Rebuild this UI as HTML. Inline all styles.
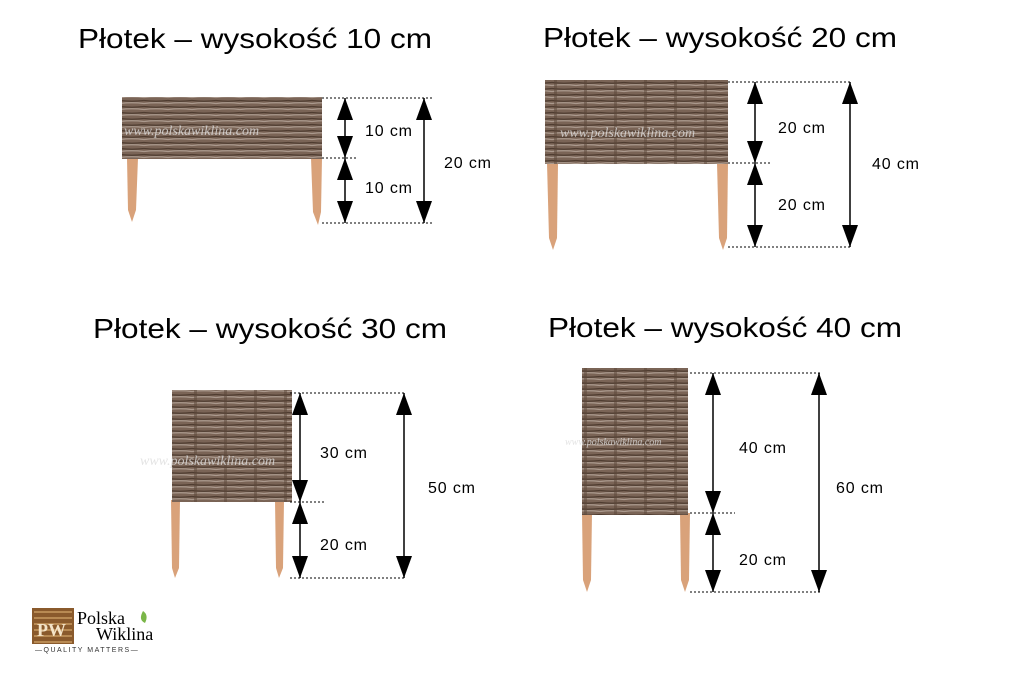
<!DOCTYPE html>
<html><head><meta charset="utf-8"><style>
html,body{margin:0;padding:0;background:#fff;}
svg{display:block;}
text{font-family:"Liberation Sans",sans-serif;fill:#000;}
.t{font-size:28px;}
.l{font-size:16px;}
.d{stroke:#000;stroke-width:1;stroke-dasharray:2,2;}
.a{stroke:#000;stroke-width:1.5;marker-start:url(#ah);marker-end:url(#ah);}
.stk{fill:#d9a27a;}
.wm{font-family:"Liberation Serif",serif;font-style:italic;font-size:14px;fill:#ddd;opacity:.8;}
</style></head><body>
<svg width="1034" height="680" viewBox="0 0 1034 680">
<defs>
<marker id="ah" viewBox="0 0 22 16" refX="22" refY="8" markerWidth="22" markerHeight="16" markerUnits="userSpaceOnUse" orient="auto-start-reverse">
<path d="M0,0 L22,8 L0,16 Z"/>
</marker>
<pattern id="wk" width="24" height="6" patternUnits="userSpaceOnUse">
<rect width="24" height="6" fill="#7a6456"/>
<path d="M0,1.5 Q12,0 24,1.5" stroke="#ab9a8e" stroke-width="1.3" fill="none"/>
<path d="M0,4.5 Q12,6 24,4.5" stroke="#4e3c30" stroke-width="1.2" fill="none"/>
</pattern>
<pattern id="vs" width="30" height="10" patternUnits="userSpaceOnUse">
<rect x="14" y="0" width="3" height="10" fill="#5a4538" opacity=".5"/>
</pattern>
</defs>

<text class="t" x="78" y="48" textLength="354" lengthAdjust="spacingAndGlyphs">Płotek – wysokość 10 cm</text>
<text class="t" x="543" y="47" textLength="354" lengthAdjust="spacingAndGlyphs">Płotek – wysokość 20 cm</text>
<text class="t" x="93" y="338" textLength="354" lengthAdjust="spacingAndGlyphs">Płotek – wysokość 30 cm</text>
<text class="t" x="548" y="337" textLength="354" lengthAdjust="spacingAndGlyphs">Płotek – wysokość 40 cm</text>

<!-- fence 1 -->
<polygon class="stk" points="127,158 138,158 136,210 132,222 128,210"/>
<polygon class="stk" points="311,158 322,158 321,212 318,225 313,212"/>
<rect x="122" y="97" width="200" height="62" fill="url(#wk)"/>
<text class="wm" x="124" y="135">www.polskawiklina.com</text>
<line class="d" x1="322" y1="98" x2="432" y2="98"/>
<line class="d" x1="322" y1="158" x2="358" y2="158"/>
<line class="d" x1="322" y1="223" x2="432" y2="223"/>
<line class="a" x1="345" y1="98" x2="345" y2="158"/>
<line class="a" x1="345" y1="158" x2="345" y2="223"/>
<line class="a" x1="424" y1="98" x2="424" y2="223"/>
<text class="l" x="365" y="136" textLength="47">10 cm</text>
<text class="l" x="365" y="193" textLength="47">10 cm</text>
<text class="l" x="444" y="168" textLength="47">20 cm</text>

<!-- fence 2 -->
<polygon class="stk" points="547,163 558,163 557,238 553,250 549,238"/>
<polygon class="stk" points="717,163 728,163 727,238 723,250 719,238"/>
<rect x="545" y="80" width="183" height="84" fill="url(#wk)"/>
<rect x="545" y="80" width="183" height="84" fill="url(#vs)"/>
<text class="wm" x="560" y="137">www.polskawiklina.com</text>
<line class="d" x1="728" y1="82" x2="850" y2="82"/>
<line class="d" x1="728" y1="163" x2="770" y2="163"/>
<line class="d" x1="728" y1="247" x2="850" y2="247"/>
<line class="a" x1="755" y1="82" x2="755" y2="163"/>
<line class="a" x1="755" y1="163" x2="755" y2="247"/>
<line class="a" x1="850" y1="82" x2="850" y2="247"/>
<text class="l" x="778" y="133" textLength="47">20 cm</text>
<text class="l" x="778" y="210" textLength="47">20 cm</text>
<text class="l" x="872" y="169" textLength="47">40 cm</text>

<!-- fence 3 -->
<polygon class="stk" points="171,500 180,500 179,568 175,578 172,568"/>
<polygon class="stk" points="275,500 284,500 283,568 279,578 276,568"/>
<rect x="172" y="390" width="120" height="112" fill="url(#wk)"/>
<rect x="172" y="390" width="120" height="112" fill="url(#vs)"/>
<text class="wm" x="140" y="465">www.polskawiklina.com</text>
<line class="d" x1="290" y1="393" x2="405" y2="393"/>
<line class="d" x1="290" y1="502" x2="325" y2="502"/>
<line class="d" x1="290" y1="578" x2="405" y2="578"/>
<line class="a" x1="300" y1="393" x2="300" y2="502"/>
<line class="a" x1="300" y1="502" x2="300" y2="578"/>
<line class="a" x1="404" y1="393" x2="404" y2="578"/>
<text class="l" x="320" y="458" textLength="47">30 cm</text>
<text class="l" x="320" y="550" textLength="47">20 cm</text>
<text class="l" x="428" y="493" textLength="47">50 cm</text>

<!-- fence 4 -->
<polygon class="stk" points="582,513 592,513 591,580 587,592 583,580"/>
<polygon class="stk" points="680,513 690,513 689,580 685,592 681,580"/>
<rect x="582" y="368" width="106" height="147" fill="url(#wk)"/>
<rect x="582" y="368" width="106" height="147" fill="url(#vs)"/>
<text class="wm" x="565" y="445" style="font-size:10px">www.polskawiklina.com</text>
<line class="d" x1="690" y1="373" x2="820" y2="373"/>
<line class="d" x1="690" y1="513" x2="735" y2="513"/>
<line class="d" x1="690" y1="592" x2="820" y2="592"/>
<line class="a" x1="713" y1="373" x2="713" y2="513"/>
<line class="a" x1="713" y1="513" x2="713" y2="592"/>
<line class="a" x1="819" y1="373" x2="819" y2="592"/>
<text class="l" x="739" y="453" textLength="47">40 cm</text>
<text class="l" x="739" y="565" textLength="47">20 cm</text>
<text class="l" x="836" y="493" textLength="47">60 cm</text>

<!-- logo -->
<rect x="32" y="608" width="42" height="36" fill="#8a5a2c"/>
<path d="M34,612 h38 M34,618 h38 M34,624 h38 M34,630 h38 M34,636 h38 M34,642 h38" stroke="#c89a60" stroke-width="1.5"/>
<text x="37" y="636" style="font-family:'Liberation Serif',serif;font-size:18px;font-weight:bold;fill:#f4e4c8">PW</text>
<text x="77" y="624" style="font-family:'Liberation Serif',serif;font-size:18px;">Polska</text>
<path d="M143,611 q6,4 2,12 q-7,-3 -2,-12z" fill="#7ab648"/>
<text x="96" y="640" style="font-family:'Liberation Serif',serif;font-size:18px;">Wiklina</text>
<text x="35" y="652" style="font-family:'Liberation Sans',sans-serif;font-size:7px;letter-spacing:1.5px;fill:#333">—QUALITY MATTERS—</text>
</svg>
</body></html>
